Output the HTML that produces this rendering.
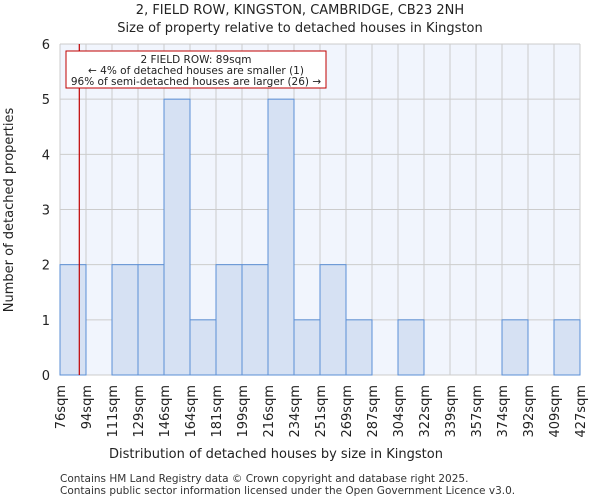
<!DOCTYPE html>
<html><head><meta charset="utf-8"><style>
body{margin:0;background:#fff;font-family:"DejaVu Sans","Liberation Sans",sans-serif}
svg text{font-family:"DejaVu Sans","Liberation Sans",sans-serif}
</style></head><body>
<svg id="c" width="600" height="500" xmlns="http://www.w3.org/2000/svg">
<text x="300" y="14" text-anchor="middle" font-size="13" fill="#222">2, FIELD ROW, KINGSTON, CAMBRIDGE, CB23 2NH</text>
<text x="300" y="32" text-anchor="middle" font-size="13" fill="#222">Size of property relative to detached houses in Kingston</text>
<rect x="60" y="44" width="520" height="331" fill="#f1f5fd"/>
<g id="grid"></g><g id="bars"></g><g id="axes"></g>
<text x="276" y="458" text-anchor="middle" font-size="13" fill="#222">Distribution of detached houses by size in Kingston</text>
<text transform="translate(13,210) rotate(-90)" text-anchor="middle" font-size="13" fill="#222">Number of detached properties</text>
<line x1="79.3" y1="44" x2="79.3" y2="375" stroke="#c00000" stroke-width="1.2"/>
<rect x="66" y="51" width="260" height="37" fill="#fff" stroke="#c00000" stroke-width="1"/>
<text x="196" y="63" text-anchor="middle" font-size="10.5" fill="#222">2 FIELD ROW: 89sqm</text>
<text x="196" y="74" text-anchor="middle" font-size="10.5" fill="#222">← 4% of detached houses are smaller (1)</text>
<text x="196" y="85" text-anchor="middle" font-size="10.5" fill="#222">96% of semi-detached houses are larger (26) →</text>
<text x="60" y="482" font-size="10.5" fill="#333">Contains HM Land Registry data © Crown copyright and database right 2025.</text>
<text x="60" y="494" font-size="10.5" fill="#333">Contains public sector information licensed under the Open Government Licence v3.0.</text>
</svg>
<script>
const binLabels=["76sqm","94sqm","111sqm","129sqm","146sqm","164sqm","181sqm","199sqm","216sqm","234sqm","251sqm","269sqm","287sqm","304sqm","322sqm","339sqm","357sqm","374sqm","392sqm","409sqm","427sqm"];
const counts=[2,0,2,2,5,1,2,2,5,1,2,1,0,1,0,0,0,1,0,1];
const yTicks=[0,1,2,3,4,5,6];
const NS="http://www.w3.org/2000/svg";
const x0=60,x1=580,y0=375,y1=44,yMax=6;
const bw=(x1-x0)/counts.length;
const xs=i=>x0+i*bw;
const ys=v=>y0-(v/yMax)*(y0-y1);
function mk(t,a,p){const e=document.createElementNS(NS,t);for(const k in a)e.setAttribute(k,a[k]);p.appendChild(e);return e;}
const grid=document.getElementById('grid'),bars=document.getElementById('bars'),axes=document.getElementById('axes');
yTicks.forEach(v=>{
 const l=mk('line',{x1:x0,x2:x1,y1:ys(v),y2:ys(v),stroke:'#cccccc','stroke-width':1},grid);
 
 
 const t=mk('text',{x:x0-10,y:ys(v)+5,'text-anchor':'end','font-size':13,fill:'#222'},axes);
 t.textContent=v;
 
 
});
binLabels.forEach((lab,i)=>{
 const x=xs(i);
 const l=mk('line',{x1:x,x2:x,y1:y1,y2:y0,stroke:'#cccccc','stroke-width':1},grid);
 
 
 const t=mk('text',{transform:`translate(${x+5},${y0+10}) rotate(-90)`,'text-anchor':'end','font-size':13,fill:'#222'},axes);
 t.textContent=lab;
 
 
});
counts.forEach((v,i)=>{
 if(v<=0)return;
 const r=mk('rect',{x:xs(i),y:ys(v),width:bw,height:y0-ys(v),fill:'#d6e1f3',stroke:'#5b8fd6','stroke-width':1},bars);
 
 
});
</script>
</body></html>
